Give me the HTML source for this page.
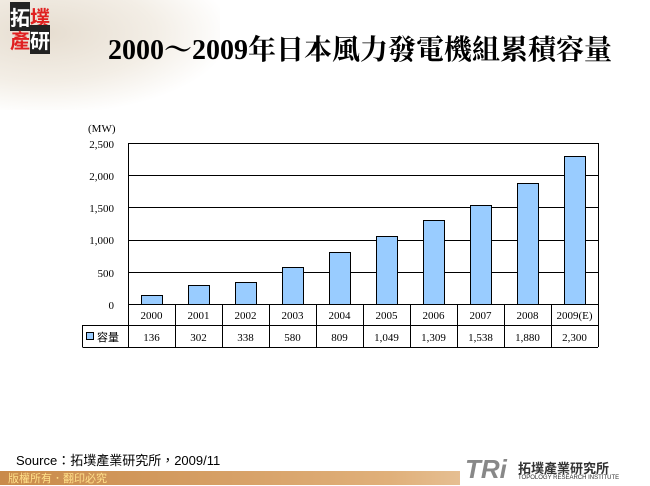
<!DOCTYPE html>
<html><head><meta charset="utf-8"><style>
body{margin:0;width:650px;height:485px;overflow:hidden;background:#fff;position:relative;font-family:"Liberation Serif","Noto Serif CJK SC",serif}
.t{position:absolute}
</style></head><body>
<div class="t" style="left:0;top:0;width:220px;height:110px;background:radial-gradient(ellipse at 20% 30%,#e6ddd0 0%,#f3eee6 45%,rgba(255,255,255,0) 75%)"></div>
<div class="t" style="left:10px;top:5px;width:50px;height:48px;font:bold 20px/23px 'Noto Sans CJK TC',sans-serif">
<span style="background:#222;color:#fff">拓</span><span style="color:#e02020">墣</span><br><span style="color:#e02020">產</span><span style="background:#222;color:#fff">研</span></div>
<div class="t" style="left:80px;top:28px;width:560px;text-align:center;font:bold 28px 'Liberation Serif','Noto Serif CJK SC',serif;white-space:nowrap">2000～2009年日本風力發電機組累積容量</div>
<svg class="t" style="left:0;top:0" width="650" height="485">
<g font-family="Liberation Serif" font-size="11" fill="#000">
<text x="88" y="132">(MW)</text>
<g text-anchor="end">
<text x="114" y="148">2,500</text><text x="114" y="180">2,000</text><text x="114" y="212">1,500</text><text x="114" y="244">1,000</text><text x="114" y="277">500</text><text x="114" y="309">0</text>
</g></g>
<g stroke="#000" stroke-width="1">
<rect x="128.5" y="143.5" width="470" height="161" fill="none"/>
<line x1="128" y1="175.5" x2="598" y2="175.5"/><line x1="128" y1="207.5" x2="598" y2="207.5"/><line x1="128" y1="240.5" x2="598" y2="240.5"/><line x1="128" y1="272.5" x2="598" y2="272.5"/>
</g>
<g fill="#99ccff" stroke="#000" stroke-width="1">
<rect x="141.5" y="295.5" width="21" height="9"/>
<rect x="188.5" y="285.5" width="21" height="19"/>
<rect x="235.5" y="282.5" width="21" height="22"/>
<rect x="282.5" y="267.5" width="21" height="37"/>
<rect x="329.5" y="252.5" width="21" height="52"/>
<rect x="376.5" y="236.5" width="21" height="68"/>
<rect x="423.5" y="220.5" width="21" height="84"/>
<rect x="470.5" y="205.5" width="21" height="99"/>
<rect x="517.5" y="183.5" width="21" height="121"/>
<rect x="564.5" y="156.5" width="21" height="148"/>
</g>
<g stroke="#000" fill="none">
<line x1="128.5" y1="304" x2="128.5" y2="347"/>
<line x1="82.5" y1="325.5" x2="598" y2="325.5"/>
<line x1="82.5" y1="347.5" x2="598" y2="347.5"/>
<line x1="82.5" y1="325" x2="82.5" y2="347"/>
<line x1="598.5" y1="304" x2="598.5" y2="347"/>
<line x1="175.5" y1="304" x2="175.5" y2="347"/><line x1="222.5" y1="304" x2="222.5" y2="347"/><line x1="269.5" y1="304" x2="269.5" y2="347"/><line x1="316.5" y1="304" x2="316.5" y2="347"/><line x1="363.5" y1="304" x2="363.5" y2="347"/><line x1="410.5" y1="304" x2="410.5" y2="347"/><line x1="457.5" y1="304" x2="457.5" y2="347"/><line x1="504.5" y1="304" x2="504.5" y2="347"/><line x1="551.5" y1="304" x2="551.5" y2="347"/>
</g>
<rect x="86.5" y="332.5" width="7" height="7" fill="#99ccff" stroke="#000"/>
<text x="97" y="341" font-family="Noto Sans CJK TC" font-size="11">容量</text>
<g font-family="Liberation Serif" font-size="11" text-anchor="middle">
<text x="151.5" y="319">2000</text><text x="198.5" y="319">2001</text><text x="245.5" y="319">2002</text><text x="292.5" y="319">2003</text><text x="339.5" y="319">2004</text><text x="386.5" y="319">2005</text><text x="433.5" y="319">2006</text><text x="480.5" y="319">2007</text><text x="527.5" y="319">2008</text><text x="574.5" y="319">2009(E)</text>
<text x="151.5" y="341">136</text><text x="198.5" y="341">302</text><text x="245.5" y="341">338</text><text x="292.5" y="341">580</text><text x="339.5" y="341">809</text><text x="386.5" y="341">1,049</text><text x="433.5" y="341">1,309</text><text x="480.5" y="341">1,538</text><text x="527.5" y="341">1,880</text><text x="574.5" y="341">2,300</text>
</g>
</svg>
<div class="t" style="left:16px;top:450px;font:13px 'Liberation Sans','Noto Sans CJK TC',sans-serif">Source：拓墣產業研究所，2009/11</div>
<div class="t" style="left:0;top:471px;width:650px;height:14px;background:linear-gradient(90deg,#c98a4a,#e0b07a 60%,#f5e6d3)"></div>
<div class="t" style="left:8px;top:471px;font:11px 'Noto Sans CJK TC',sans-serif;color:#ffe08a;line-height:14px">版權所有．翻印必究</div>
<div class="t" style="left:460px;top:458px;width:190px;height:27px;background:#fff"></div>
<div class="t" style="left:465px;top:454px;font:bold italic 26px 'Liberation Sans',sans-serif;color:#888">TRi</div>
<div class="t" style="left:518px;top:458px;font:bold 13px 'Noto Sans CJK TC',sans-serif;color:#333">拓墣產業研究所</div>
<div class="t" style="left:518px;top:475px;font:6px 'Liberation Sans',sans-serif;color:#333">TOPOLOGY RESEARCH INSTITUTE</div>
</body></html>
